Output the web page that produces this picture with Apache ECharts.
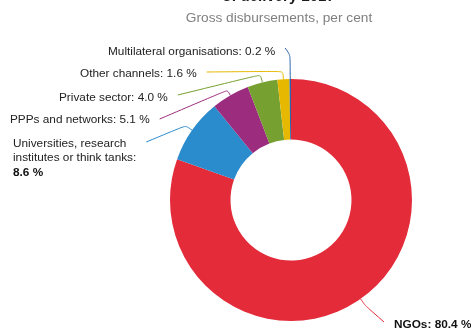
<!DOCTYPE html>
<html>
<head>
<meta charset="utf-8">
<script src="https://cdn.jsdelivr.net/npm/echarts@6/dist/echarts.min.js"></script>
<style>
html,body{margin:0;padding:0;background:#fff;}
#chart{width:471px;height:331px;}
</style>
</head>
<body>
<div id="chart"></div>
<script>
// ---- data ----
const categories = ['NGOs', 'Universities, research institutes or think tanks', 'PPPs and networks', 'Private sector', 'Other channels', 'Multilateral organisations'];
const values = [80.4, 8.6, 5.1, 4.0, 1.6, 0.2];
const titleText = 'of delivery 2017';
const subtitleText = 'Gross disbursements, per cent';

// ---- styling / layout ----
const FONT = '"Liberation Sans", Arial, sans-serif';
const COLORS = ['#e32b39', '#2b8ccd', '#9c2d7e', '#76a030', '#e6b800', '#2a64ae'];
const CX = 291, CY = 200, R_IN = 60.5, R_OUT = 121;
const LABEL_POS = [
  {x: 394, y: 325, side: 'right', ey: 322, len: 8},
  {x: 13, y: 158, side: 'left', ey: 142, len: 8},
  {x: 10, y: 120, side: 'left', ey: 119, len: 6},
  {x: 59, y: 98, side: 'left', ey: 95, len: 8},
  {x: 80, y: 74, side: 'left', ey: 72, len: 8},
  {x: 108, y: 52, side: 'left', ey: 48, len: 24}
];

const total = values.reduce((a, b) => a + b, 0);
const midFrac = [];
let acc = 0;
values.forEach(v => { midFrac.push((acc + v / 2) / total); acc += v; });

function fmtVal(v) { return v.toFixed(1) + ' %'; }

const chart = echarts.init(document.getElementById('chart'), null, {renderer: 'canvas'});
chart.setOption({
  animation: false,
  backgroundColor: '#fff',
  graphic: [
    {type: 'text', style: {text: titleText, x: 278.5, y: -3, align: 'center', verticalAlign: 'middle', font: 'bold 15px ' + FONT, fill: '#1a1a1a'}},
    {type: 'text', style: {text: subtitleText, x: 279, y: 18.5, align: 'center', verticalAlign: 'middle', font: '13.7px ' + FONT, fill: '#7f7f7f'}}
  ],
  series: [{
    type: 'pie',
    center: [CX, CY],
    radius: [R_IN, R_OUT],
    startAngle: 90,
    clockwise: true,
    avoidLabelOverlap: false,
    silent: true,
    data: categories.map((c, i) => ({
      name: c, value: values[i],
      itemStyle: {color: COLORS[i]},
      labelLine: {lineStyle: {color: COLORS[i]}}
    })),
    label: {
      show: true,
      position: 'outside',
      fontFamily: FONT,
      fontSize: 11.8,
      lineHeight: 14.5,
      color: '#222',
      formatter: function (p) {
        const v = fmtVal(p.value);
        if (p.dataIndex === 1) {
          return 'Universities, research\ninstitutes or think tanks:\n{b|' + v + '}';
        }
        if (p.dataIndex === 0) {
          return '{nb|' + p.name + ': ' + v + '}';
        }
        return p.name + ': ' + v;
      },
      rich: {
        b: {fontWeight: 'bold', fontFamily: FONT, fontSize: 11.8, lineHeight: 14.5, color: '#111'},
        nb: {fontWeight: 'bold', fontFamily: FONT, fontSize: 11.8, lineHeight: 14.5, color: '#111'}
      }
    },
    labelLine: {show: true, smooth: 0.25, lineStyle: {width: 1}},
    labelLayout: function (params) {
      const i = params.dataIndex;
      const lp = LABEL_POS[i];
      const w = params.labelRect.width;
      const a = midFrac[i] * Math.PI * 2;
      const dx = Math.sin(a), dy = -Math.cos(a);
      const p0 = [CX + R_OUT * dx, CY + R_OUT * dy];
      const p1 = [CX + (R_OUT + lp.len) * dx, CY + (R_OUT + lp.len) * dy];
      const ex = lp.side === 'left' ? lp.x + w + 10 : lp.x - 10;
      return {
        x: lp.x, y: lp.y, align: 'left', verticalAlign: 'middle',
        labelLinePoints: [p0, p1, [ex, lp.ey]]
      };
    }
  }]
});
</script>
</body>
</html>
